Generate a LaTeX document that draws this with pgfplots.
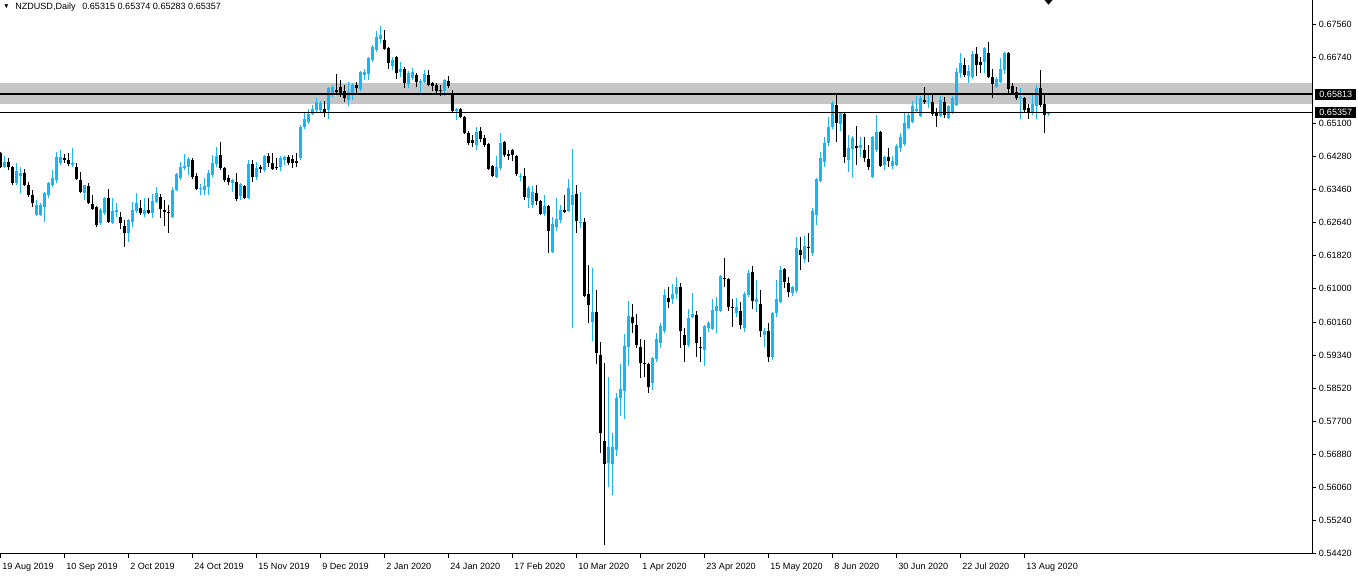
\documentclass[border=0pt]{standalone}
\usepackage{fontspec}
\setmainfont{Liberation Sans}
\usepackage{pgfplots}
\pgfplotsset{compat=1.18}
\usepackage{pgfplotstable}
\definecolor{bull}{RGB}{30,180,238}
\definecolor{zone}{RGB}{198,198,198}

% daily candles, x = bar number (0 = 19 Aug 2019), o h l c
\pgfplotstableread{
x o h l c
1 0.64008 0.64281 0.63983 0.64132
4 0.63610 0.64107 0.63561 0.63908
5 0.63784 0.64008 0.63361 0.63858
9 0.62816 0.63188 0.62791 0.63064
10 0.62816 0.63113 0.62791 0.63064
11 0.63014 0.63386 0.62641 0.63361
12 0.63312 0.63635 0.63237 0.63610
13 0.63561 0.63933 0.63511 0.63734
14 0.63685 0.64380 0.63610 0.64256
15 0.64107 0.64430 0.64058 0.64256
18 0.64058 0.64479 0.64008 0.64107
21 0.63361 0.63561 0.63188 0.63561
25 0.62616 0.62989 0.62567 0.62940
26 0.62865 0.63262 0.62816 0.63237
28 0.62616 0.63237 0.62592 0.62915
29 0.62890 0.63113 0.62766 0.62940
32 0.62368 0.62716 0.62144 0.62691
33 0.62641 0.63138 0.62517 0.62940
34 0.62915 0.63361 0.62865 0.63113
36 0.62841 0.63237 0.62766 0.62940
38 0.62865 0.63337 0.62741 0.63163
39 0.63138 0.63511 0.63113 0.63361
43 0.62766 0.63511 0.62741 0.63436
44 0.63436 0.63858 0.63411 0.63834
45 0.63734 0.64132 0.63685 0.64008
46 0.63983 0.64331 0.63933 0.64033
47 0.64008 0.64256 0.63809 0.64206
50 0.63461 0.63586 0.63312 0.63486
51 0.63436 0.63734 0.63312 0.63536
52 0.63511 0.63933 0.63312 0.63858
53 0.63809 0.64306 0.63759 0.64107
54 0.64083 0.64504 0.64008 0.64281
58 0.63610 0.63709 0.63386 0.63685
60 0.63287 0.63610 0.63188 0.63586
62 0.63237 0.64182 0.63212 0.64083
64 0.63759 0.64132 0.63685 0.63983
66 0.63933 0.64306 0.63883 0.64281
70 0.64008 0.64281 0.63908 0.64231
71 0.64182 0.64281 0.64058 0.64256
75 0.64231 0.65051 0.64182 0.65001
76 0.65001 0.65349 0.64951 0.65200
77 0.65125 0.65448 0.65076 0.65325
78 0.65325 0.65548 0.65300 0.65448
79 0.65424 0.65721 0.65374 0.65622
80 0.65424 0.65647 0.65374 0.65597
82 0.65424 0.65995 0.65200 0.65970
83 0.65796 0.66045 0.65746 0.65995
87 0.65672 0.66119 0.65523 0.65870
88 0.65796 0.66094 0.65672 0.66045
90 0.65945 0.66392 0.65895 0.66367
91 0.66293 0.66442 0.66169 0.66367
92 0.66318 0.66740 0.66169 0.66715
93 0.66666 0.67038 0.66616 0.66988
94 0.66914 0.67386 0.66864 0.67237
95 0.67187 0.67510 0.67087 0.67286
98 0.66517 0.66740 0.66417 0.66666
100 0.66367 0.66616 0.66243 0.66442
102 0.66070 0.66392 0.65970 0.66342
103 0.66218 0.66467 0.66169 0.66367
105 0.66094 0.66194 0.65796 0.66144
106 0.66119 0.66417 0.66094 0.66318
111 0.65895 0.66194 0.65771 0.66169
114 0.65399 0.65473 0.65175 0.65448
119 0.64554 0.65001 0.64430 0.64877
124 0.63759 0.64281 0.63734 0.64008
125 0.63983 0.64852 0.63933 0.64603
130 0.63759 0.63858 0.63660 0.63784
132 0.63237 0.63536 0.62989 0.63486
133 0.63064 0.63536 0.62989 0.63386
136 0.62841 0.63312 0.62791 0.63039
138 0.61896 0.62766 0.61871 0.62592
139 0.62517 0.63237 0.62418 0.62716
140 0.62691 0.63064 0.62616 0.62940
142 0.62915 0.63709 0.62890 0.63486
143 0.63064 0.64454 0.60008 0.63312
145 0.62616 0.63386 0.62492 0.62641
148 0.60157 0.61499 0.59685 0.60406
152 0.56655 0.58791 0.56059 0.57052
153 0.56631 0.57400 0.55860 0.57052
154 0.56978 0.58394 0.56829 0.58269
155 0.58269 0.59115 0.57823 0.58493
156 0.58443 0.59860 0.57748 0.59561
157 0.59536 0.60679 0.59065 0.60306
163 0.58642 0.59288 0.58468 0.59263
164 0.59238 0.59884 0.59164 0.59735
165 0.59635 0.60132 0.59511 0.60058
166 0.59934 0.60977 0.59884 0.60828
168 0.60729 0.61101 0.60605 0.60853
169 0.60853 0.61276 0.60729 0.61027
172 0.59586 0.60480 0.59536 0.60257
173 0.60281 0.60878 0.60257 0.60356
176 0.59462 0.60083 0.59065 0.60058
177 0.60008 0.60182 0.59909 0.60132
178 0.59983 0.60729 0.59959 0.60456
179 0.60431 0.60778 0.59884 0.60555
180 0.60431 0.61325 0.60406 0.61300
184 0.60381 0.60754 0.60281 0.60530
186 0.60008 0.60903 0.59909 0.60853
187 0.60828 0.61449 0.60778 0.61375
189 0.60654 0.61201 0.60406 0.60729
191 0.59834 0.60008 0.59536 0.59934
193 0.59288 0.60406 0.59214 0.60381
194 0.60381 0.61201 0.60281 0.60729
195 0.60654 0.61549 0.60630 0.61449
198 0.60878 0.61052 0.60803 0.61027
199 0.60928 0.62269 0.60878 0.61996
201 0.61723 0.62294 0.61623 0.62045
203 0.61871 0.62989 0.61797 0.62915
204 0.62816 0.63734 0.62567 0.63709
205 0.63660 0.64380 0.63635 0.64231
206 0.64132 0.64753 0.64008 0.64603
207 0.64603 0.65250 0.64529 0.65001
208 0.65001 0.65647 0.64951 0.65597
210 0.65076 0.65374 0.64902 0.65349
212 0.64182 0.64803 0.63883 0.64479
213 0.64454 0.64778 0.63759 0.64728
215 0.64479 0.64753 0.64256 0.64554
218 0.63759 0.64778 0.63734 0.64753
219 0.64430 0.65300 0.64380 0.64877
221 0.64058 0.64281 0.63933 0.64256
223 0.64033 0.64281 0.63958 0.64157
224 0.64058 0.64579 0.64033 0.64529
225 0.64479 0.64852 0.64380 0.64753
226 0.64579 0.65349 0.64529 0.65101
227 0.64976 0.65349 0.64951 0.65300
228 0.65125 0.65647 0.65101 0.65523
229 0.65399 0.65771 0.65349 0.65448
230 0.65275 0.65771 0.65250 0.65721
232 0.65622 0.65845 0.65473 0.65647
235 0.65275 0.65771 0.65250 0.65672
237 0.65225 0.65548 0.65200 0.65523
238 0.65349 0.65771 0.65325 0.65721
239 0.65548 0.66467 0.65523 0.66367
240 0.66342 0.66839 0.66218 0.66591
242 0.66268 0.66542 0.66094 0.66392
243 0.66243 0.66889 0.66194 0.66815
246 0.66616 0.66988 0.66342 0.66963
249 0.65995 0.66243 0.65970 0.66194
250 0.66119 0.66715 0.66094 0.66442
251 0.66417 0.66864 0.66318 0.66840
255 0.65721 0.65970 0.65200 0.65746
258 0.65349 0.65845 0.65300 0.65573
259 0.65523 0.66045 0.65200 0.65970
262 0.65315 0.65374 0.65283 0.65357
}\up

\pgfplotstableread{
x o h l c
0 0.64355 0.64380 0.63983 0.64008
2 0.64132 0.64231 0.63933 0.64008
3 0.64008 0.64033 0.63561 0.63610
6 0.63858 0.63958 0.63536 0.63561
7 0.63561 0.63635 0.63262 0.63312
8 0.63312 0.63436 0.63014 0.63113
16 0.64231 0.64331 0.64107 0.64182
17 0.64182 0.64355 0.64033 0.64083
19 0.64008 0.64107 0.63685 0.63709
20 0.63685 0.63883 0.63361 0.63386
22 0.63536 0.63610 0.63089 0.63113
23 0.63089 0.63312 0.62940 0.62964
24 0.63014 0.63039 0.62517 0.62567
27 0.63237 0.63461 0.62616 0.62641
30 0.62766 0.62890 0.62467 0.62616
31 0.62542 0.62691 0.62020 0.62368
35 0.62989 0.63188 0.62816 0.62865
37 0.62940 0.63237 0.62841 0.62865
40 0.63262 0.63337 0.62741 0.62964
41 0.62940 0.63188 0.62542 0.62890
42 0.62890 0.63064 0.62368 0.62865
48 0.64182 0.64231 0.63709 0.63759
49 0.63784 0.63858 0.63436 0.63461
55 0.64306 0.64628 0.63933 0.63983
56 0.63983 0.64008 0.63635 0.63685
57 0.63734 0.63809 0.63561 0.63635
59 0.63635 0.63858 0.63163 0.63212
61 0.63536 0.63561 0.63212 0.63237
63 0.64083 0.64182 0.63635 0.63759
65 0.64008 0.64058 0.63858 0.63958
67 0.64281 0.64355 0.64008 0.64107
68 0.64107 0.64355 0.63933 0.63958
69 0.64008 0.64231 0.63933 0.63983
72 0.64256 0.64306 0.64058 0.64107
73 0.64206 0.64306 0.63983 0.64107
74 0.64157 0.64355 0.64008 0.64107
81 0.65448 0.65647 0.65250 0.65374
84 0.65920 0.66318 0.65796 0.65870
85 0.65995 0.66169 0.65746 0.65845
86 0.65895 0.66045 0.65622 0.65721
89 0.66045 0.66119 0.65821 0.65970
96 0.67162 0.67411 0.66914 0.66939
97 0.66963 0.66988 0.66442 0.66591
99 0.66740 0.66765 0.66194 0.66342
101 0.66442 0.66492 0.65970 0.66094
104 0.66293 0.66342 0.65995 0.66119
107 0.66293 0.66417 0.66020 0.66045
108 0.66094 0.66119 0.65895 0.66020
109 0.66045 0.66094 0.65845 0.65895
110 0.65920 0.66045 0.65771 0.65895
112 0.66144 0.66268 0.65970 0.66020
113 0.65796 0.65920 0.65374 0.65399
115 0.65448 0.65473 0.65225 0.65250
116 0.65250 0.65275 0.64828 0.64852
117 0.64852 0.64902 0.64554 0.64603
118 0.64678 0.64803 0.64504 0.64603
120 0.64902 0.65001 0.64628 0.64703
121 0.64728 0.64803 0.64504 0.64554
122 0.64579 0.64603 0.63933 0.63958
123 0.64033 0.64058 0.63759 0.63784
126 0.64628 0.64653 0.64256 0.64306
127 0.64331 0.64430 0.64182 0.64281
128 0.64430 0.64454 0.64157 0.64306
129 0.64281 0.64306 0.63784 0.63834
131 0.63784 0.63983 0.63188 0.63262
134 0.63361 0.63561 0.63064 0.63163
135 0.63163 0.63188 0.62816 0.62841
137 0.63039 0.63064 0.61871 0.62418
141 0.62940 0.63312 0.62865 0.62890
144 0.63337 0.63561 0.62368 0.62666
146 0.62641 0.62741 0.60778 0.60803
147 0.60853 0.61574 0.60132 0.60580
149 0.60406 0.60952 0.59115 0.59387
150 0.59338 0.59660 0.56903 0.57400
151 0.57201 0.59139 0.54643 0.56631
158 0.60281 0.60605 0.59884 0.60132
159 0.60083 0.60356 0.59511 0.59586
160 0.59536 0.59735 0.58766 0.59139
161 0.59139 0.59710 0.58791 0.59115
162 0.59115 0.59139 0.58394 0.58543
167 0.60754 0.61027 0.60505 0.60654
170 0.61027 0.61126 0.59511 0.59934
171 0.59834 0.60008 0.59164 0.59586
174 0.60331 0.60431 0.59288 0.59635
175 0.59536 0.59785 0.59164 0.59511
181 0.61251 0.61747 0.61027 0.61226
182 0.61226 0.61251 0.60431 0.60530
183 0.60530 0.60729 0.60033 0.60505
185 0.60431 0.60654 0.59983 0.60083
188 0.61400 0.61549 0.60480 0.60679
190 0.60605 0.60952 0.59785 0.59934
192 0.59934 0.60132 0.59164 0.59288
196 0.61474 0.61499 0.61002 0.61151
197 0.61126 0.61276 0.60778 0.60903
200 0.61946 0.62269 0.61449 0.61822
202 0.62020 0.62368 0.61648 0.61996
209 0.65548 0.65796 0.64628 0.65101
211 0.65325 0.65349 0.64107 0.64256
214 0.64529 0.65026 0.64058 0.64479
216 0.64430 0.64753 0.64132 0.64231
217 0.64206 0.64554 0.63933 0.64008
220 0.64877 0.64902 0.64008 0.64033
222 0.64256 0.64479 0.64008 0.64157
231 0.65672 0.65995 0.65573 0.65622
233 0.65622 0.65845 0.65275 0.65325
234 0.65374 0.65473 0.65001 0.65275
236 0.65622 0.65746 0.65225 0.65300
241 0.66542 0.66715 0.66243 0.66293
244 0.66815 0.66988 0.66268 0.66542
245 0.66616 0.66740 0.66342 0.66542
247 0.66840 0.67113 0.66218 0.66243
248 0.66243 0.66442 0.65721 0.66070
252 0.66840 0.66864 0.65821 0.65945
253 0.66020 0.66094 0.65796 0.65845
254 0.65870 0.65995 0.65672 0.65721
256 0.65721 0.65746 0.65349 0.65424
257 0.65473 0.65573 0.65200 0.65349
260 0.65970 0.66417 0.65498 0.65548
261 0.65573 0.65796 0.64852 0.65300
}\down

\begin{document}
\begin{tikzpicture}
\useasboundingbox (0pt,-16.875pt) rectangle (1018.5pt,415.125pt);
\begin{axis}[
    at={(0pt,0pt)}, anchor=south west,
    width=984pt, height=415.125pt, scale only axis,
    xmin=-0.125, xmax=327.875,
    ymin=0.5442, ymax=0.68156,
    clip=false,
    axis x line*=bottom, axis y line*=right,
    axis line style={line width=0.75pt},
    tick align=outside, major tick length=3pt,
    tick style={black, line width=0.75pt},
    scaled y ticks=false,
    xtick={0,16,...,256},
    xticklabels={19 Aug 2019,10 Sep 2019,2 Oct 2019,24 Oct 2019,15 Nov 2019,9 Dec 2019,2 Jan 2020,24 Jan 2020,17 Feb 2020,10 Mar 2020,1 Apr 2020,23 Apr 2020,15 May 2020,8 Jun 2020,30 Jun 2020,22 Jul 2020,13 Aug 2020},
    ytick={0.6756,0.6674,0.651,0.6428,0.6346,0.6264,0.6182,0.61,0.6016,0.5934,0.5852,0.577,0.5688,0.5606,0.5524,0.5442},
    yticklabels={0.67560,0.66740,0.65100,0.64280,0.63460,0.62640,0.61820,0.61000,0.60160,0.59340,0.58520,0.57700,0.56880,0.56060,0.55240,0.54420},
    ticklabel style={font=\fontsize{6.8pt}{8pt}\selectfont, inner sep=0pt},
    xticklabel style={anchor=base west, xshift=1.2pt, yshift=-9.2pt},
    yticklabel style={anchor=west, xshift=2pt},
]
% support/resistance zone
\addplot[fill=zone, draw=none] coordinates {(-0.125,0.65565) (327.875,0.65565) (327.875,0.66087) (-0.125,0.66087)} -- cycle;

% wicks
\addplot[draw=bull, line width=0.75pt, mark=none, quiver={u=0, v=\thisrow{h}-\thisrow{l}}] table[x=x, y=l] {\up};
\addplot[draw=black, line width=0.75pt, mark=none, quiver={u=0, v=\thisrow{h}-\thisrow{l}}] table[x=x, y=l] {\down};
% bodies
\addplot[draw=bull, line width=2.25pt, mark=none, quiver={u=0, v=\thisrow{c}-\thisrow{o}}] table[x=x, y=o] {\up};
\addplot[draw=black, line width=2.25pt, mark=none, quiver={u=0, v=\thisrow{o}-\thisrow{c}}] table[x=x, y=c] {\down};

% levels
\addplot[black, line width=1.5pt, mark=none] coordinates {(-0.125,0.65813) (327.875,0.65813)};
\addplot[black, line width=0.75pt, mark=none] coordinates {(-0.125,0.65357) (327.875,0.65357)};

% chart shift marker
\addplot[fill=black, draw=none] coordinates {(261.0,0.68156) (263.0,0.68156) (262.0,0.68040)} -- cycle;

\node[fill=black, text=white, anchor=west, inner sep=0pt, minimum width=30.75pt, minimum height=8pt, font=\fontsize{6.8pt}{8pt}\selectfont, xshift=2.25pt] at (axis cs:327.875,0.65813) {0.65813};
\node[fill=black, text=white, anchor=west, inner sep=0pt, minimum width=30.75pt, minimum height=8pt, font=\fontsize{6.8pt}{8pt}\selectfont, xshift=2.25pt] at (axis cs:327.875,0.65357) {0.65357};

\node[anchor=west, inner sep=0pt, font=\fontsize{5pt}{6pt}\selectfont, xshift=2.2pt, yshift=-5pt] at (rel axis cs:0,1) {▼};
\node[anchor=west, inner sep=0pt, font=\fontsize{6.8pt}{8pt}\selectfont, xshift=11.25pt, yshift=-5pt] at (rel axis cs:0,1) {NZDUSD,Daily\hspace{5pt}0.65315 0.65374 0.65283 0.65357};
\end{axis}
\end{tikzpicture}
\end{document}
